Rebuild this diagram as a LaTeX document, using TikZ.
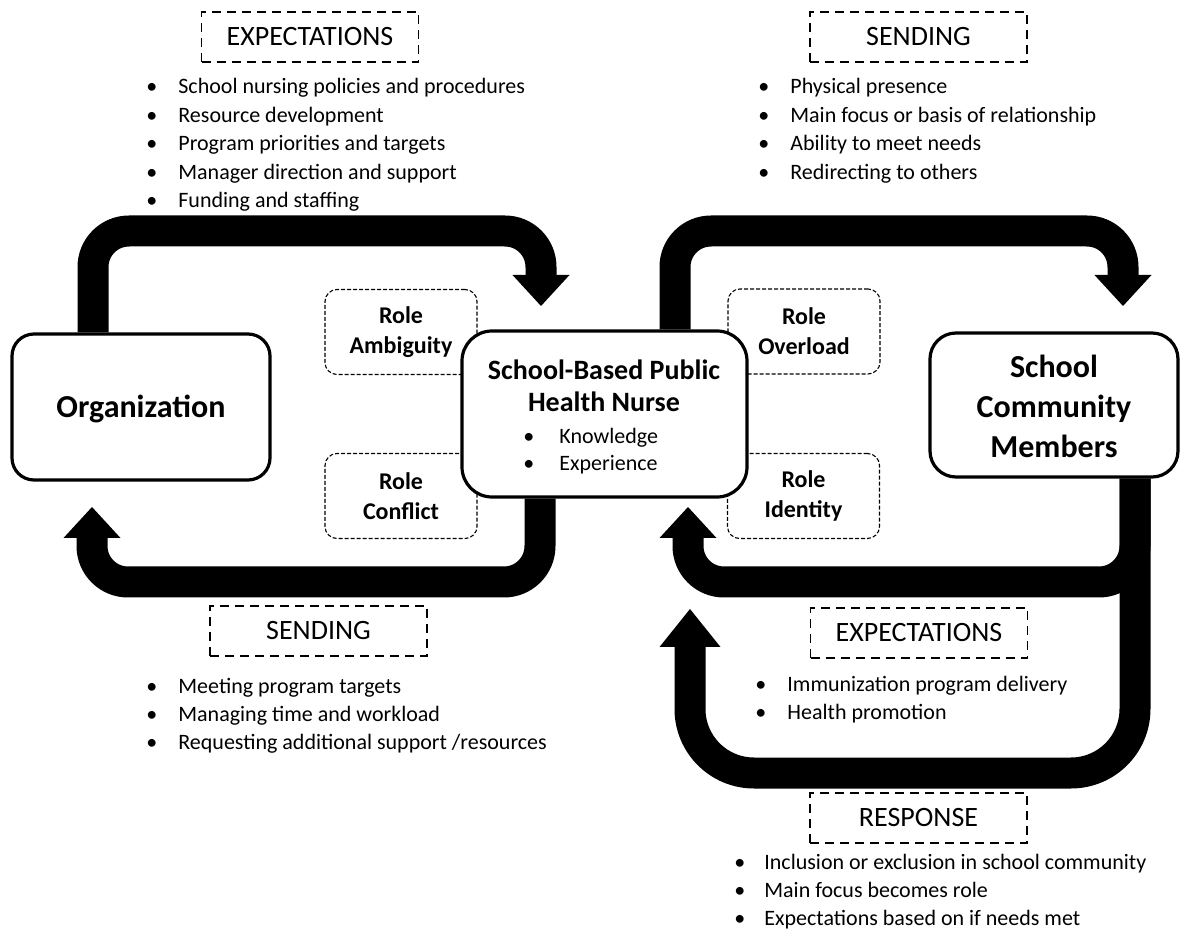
\documentclass[tikz,border=0pt]{standalone}
\usepackage{fontspec}
\setmainfont{Carlito}
\usetikzlibrary{calc}
\tikzset{
  band/.style={line width=15.5pt, line cap=butt, line join=round},
  mainbox/.style={draw, line width=1.6pt, fill=white, inner sep=0pt, align=center},
  rolebox/.style={draw, line width=0.55pt, dash pattern=on 2pt off 1pt, rounded corners=6pt,
    minimum width=76pt, minimum height=42.5pt, align=center, inner sep=0pt,
    font=\fontsize{12}{15}\selectfont\bfseries},
  labelbox/.style={draw, line width=0.75pt, dash pattern=on 4.5pt off 3pt,
    minimum width=108.5pt, minimum height=25pt, inner sep=0pt,
    font=\fontsize{14}{17}\selectfont},
  blistnode/.style={inner sep=0pt, anchor=base west, font=\fontsize{11}{14.25}\selectfont},
}
\newcommand\bitem[1]{\makebox[16pt][l]{\textbullet}#1}
\newcommand\blist[1]{\begin{tabular}[t]{@{}l@{}}#1\end{tabular}}
\newcommand\headdown[3]{\fill (#1) ++(-#2,0) -- ++(2*#2,0) -- ++(-#2,#3) -- cycle;}
\newcommand\headup[3]{\fill (#1) ++(-#2,0) -- ++(2*#2,0) -- ++(-#2,-#3) -- cycle;}
\begin{document}
\begin{tikzpicture}[x=0.5pt,y=-0.5pt]
\useasboundingbox (0,0) rectangle (1180,936);

% invisible copies of the main boxes, for anchors of the connectors drawn below them
\path (141,407) node[mainbox, minimum width=129pt, minimum height=73pt, draw=none, fill=none] (orgA) {};
\path (604.5,414) node[mainbox, minimum width=142.5pt, minimum height=83pt, draw=none, fill=none] (nurseA) {};
\path (1054,405) node[mainbox, minimum width=124pt, minimum height=72pt, draw=none, fill=none] (scmA) {};

% turning points
\coordinate (p1) at (93,231);  \coordinate (p2) at (541,231);  \coordinate (h1) at (541,275);
\coordinate (p3) at (675,231); \coordinate (p4) at (1123,231); \coordinate (h2) at (1123,275);
\coordinate (p5) at (540,582); \coordinate (p6) at (92,582);   \coordinate (h3) at (92,538);
\coordinate (p7) at (1135,582); \coordinate (p8) at (688,582); \coordinate (h4) at (688,538);
\coordinate (p9) at (1135,773); \coordinate (p10) at (690,773); \coordinate (h5) at (690,647);

% bands
\draw[band, rounded corners=18pt] (orgA.north -| p1) -- (p1) -- (p2) -- (h1);
\headdown{h1}{28.5}{31}
\draw[band, rounded corners=18pt] (nurseA.north -| p3) -- (p3) -- (p4) -- (h2);
\headdown{h2}{28.5}{31}
\draw[band, rounded corners=18pt] (nurseA.south -| p5) -- (p5) -- (p6) -- (h3);
\headup{h3}{28.5}{31}
\draw[band, rounded corners=32pt] (scmA.south -| p9) -- (p9) -- (p10) -- (h5);
\headup{h5}{30.5}{38}
\draw[band, rounded corners=18pt] (scmA.south -| p7) -- (p7) -- (p8) -- (h4);
\headup{h4}{28.5}{31}

% role boxes
\node[rolebox] (amb) at (401,332) {Role\\Ambiguity};
\node[rolebox] (con) at (401,496) {Role\\Conflict};
\node[rolebox] (ovl) at (804,331.5) {Role\\Overload};
\node[rolebox] (idt) at (803.5,496) {Role\\Identity};

% main boxes
\node[mainbox, minimum width=129pt, minimum height=73pt, rounded corners=11pt,
  font=\fontsize{16}{19}\selectfont\bfseries] (org) at (141,407) {\raisebox{-1pt}[\height][\depth]{Organization}};
\node[mainbox, minimum width=142.5pt, minimum height=83pt, rounded corners=15pt] (nurse) at (604.5,414) {};
\node[inner sep=0pt, align=center, font=\fontsize{14}{16}\selectfont\bfseries] (nursetitle) at (604,386) {School-Based Public\\Health Nurse};
\node[blistnode, font=\fontsize{11}{13.5}\selectfont] (nursebul) at (523,444) {\blist{\makebox[18pt][l]{\textbullet}Knowledge\\\makebox[18pt][l]{\textbullet}Experience}};
\node[mainbox, minimum width=124pt, minimum height=72pt, rounded corners=13pt,
  font=\fontsize{16}{20}\selectfont\bfseries] (scm) at (1054,405)
  {\raisebox{-2.5pt}[\height][\depth]{\begin{tabular}{@{}c@{}}School\\[0pt]Community\\Members\end{tabular}}};

% label boxes
\node[labelbox] (exp1) at (310,37) {EXPECTATIONS\hspace{6.5pt}};
\node[labelbox] (send1) at (918.5,37) {SENDING};
\node[labelbox] (send2) at (318.5,631) {SENDING};
\node[labelbox] (exp2) at (919,633) {EXPECTATIONS\hspace{6.5pt}};
\node[labelbox] (resp) at (918.5,818) {RESPONSE};

% lists
\node[blistnode] (l1) at (146,94) {\blist{\bitem{School nursing policies and procedures}\\
  \bitem{Resource development}\\ \bitem{Program priorities and targets}\\
  \bitem{Manager direction and support}\\ \bitem{Funding and staffing}}};
\node[blistnode] (l2) at (758,94) {\blist{\bitem{Physical presence}\\
  \bitem{Main focus or basis of relationship}\\ \bitem{Ability to meet needs}\\
  \bitem{Redirecting to others}}};
\node[blistnode] (l3) at (146,693) {\blist{\bitem{Meeting program targets}\\
  \bitem{Managing time and workload}\\ \bitem{Requesting additional support /resources}}};
\node[blistnode] (l4) at (755,691) {\blist{\bitem{Immunization program delivery}\\
  \bitem{Health promotion}}};
\node[blistnode] (l5) at (734,869) {\blist{\makebox[15pt][l]{\textbullet}Inclusion or exclusion in school community\\
  \makebox[15pt][l]{\textbullet}Main focus becomes role\\ \makebox[15pt][l]{\textbullet}Expectations based on if needs met}};
\end{tikzpicture}
\end{document}
